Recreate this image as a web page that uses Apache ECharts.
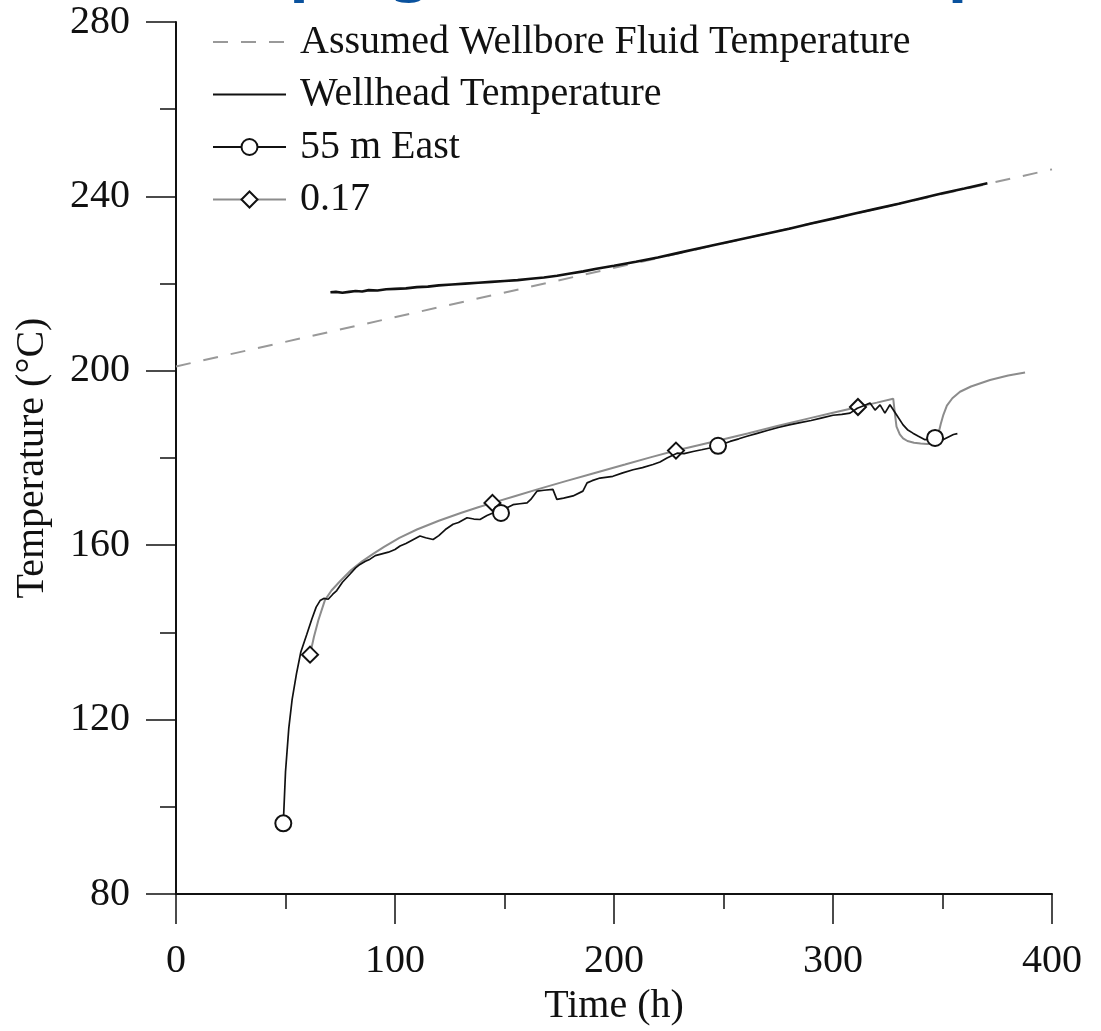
<!DOCTYPE html>
<html>
<head>
<meta charset="utf-8">
<title>Temperature vs time</title>
<script src="https://cdn.jsdelivr.net/npm/echarts@6/dist/echarts.min.js"></script>
<style>
  html, body { margin: 0; padding: 0; background: #fff; }
  #chart { width: 1101px; height: 1031px; }
</style>
</head>
<body>
<div id="chart"></div>
<script>
const serif = '"Liberation Serif", "Times New Roman", serif';

const seriesNames = ['Assumed Wellbore Fluid Temperature', 'Wellhead Temperature', '55 m East', '0.17'];
const xTicks = [0, 100, 200, 300, 400];
const yTicks = [80, 120, 160, 200, 240, 280];

// [time h, temperature C]
const assumedTemp = [[0, 201.0], [400, 246.2]];

const wellheadTemp = [
  [70.5, 218.0], [73, 218.1], [76, 217.9], [79, 218.1], [82, 218.3], [85, 218.2],
  [88, 218.5], [92, 218.4], [96, 218.7], [100, 218.8], [105, 218.9], [110, 219.2],
  [115, 219.3], [120, 219.6], [126, 219.8], [132, 220.0], [138, 220.2], [144, 220.4],
  [150, 220.6], [156, 220.8], [162, 221.1], [168, 221.4], [174, 221.8], [180, 222.3],
  [186, 222.8], [192, 223.4], [200, 224.1], [210, 225.0], [220, 226.0], [230, 227.1],
  [240, 228.2], [250, 229.3], [260, 230.4], [270, 231.5], [280, 232.6], [290, 233.8],
  [300, 234.9], [310, 236.1], [320, 237.2], [330, 238.3], [340, 239.5], [350, 240.7],
  [360, 241.8], [370.5, 243.0]
];

const eastTemp = [
  [49, 96.2], [50, 108], [51.5, 118], [53, 124.5], [55, 130.5], [57, 135.5],
  [59.7, 139.5], [62, 143], [64, 145.8], [65.8, 147.3], [67.5, 147.8], [69.5, 147.6],
  [71.5, 148.7], [73.4, 149.6], [76, 151.5], [79.5, 153.4], [82, 154.8], [84, 155.6],
  [86.5, 156.3], [88.6, 156.8], [91, 157.6], [94, 158.0], [97, 158.4], [100, 159.0],
  [102.3, 159.8], [105, 160.4], [108, 161.2], [111.4, 162.1], [114, 161.7], [117.4, 161.3],
  [120, 162.2], [123, 163.6], [126.5, 164.8], [129, 165.2], [132.9, 166.3], [136, 166.0],
  [138.8, 165.9], [142, 166.8], [146.6, 167.8], [148.4, 167.4], [150, 168.3], [153.9, 169.3],
  [157, 169.5], [160.3, 169.7], [162, 170.5], [164.8, 172.4], [168, 172.6], [172.1, 172.8],
  [173.9, 170.5], [177, 170.8], [181.3, 171.3], [185.8, 172.4], [187.7, 174.3], [190, 174.8],
  [193.6, 175.4], [199.5, 175.8], [204, 176.6], [208.7, 177.3], [213, 177.8], [217.8, 178.5],
  [221, 179.1], [224.2, 180.0], [228.8, 181.1], [232, 181.0], [236.1, 181.5], [240, 181.9],
  [243.8, 182.3], [247.5, 182.8], [253, 183.8], [257, 184.4], [260.7, 185.0], [265, 185.6],
  [270, 186.3], [275, 187.0], [280, 187.6], [285, 188.1], [290, 188.6], [295, 189.2],
  [300, 189.8], [304, 190.0], [307.8, 190.3], [311.1, 191.4], [314, 192.0], [316.9, 192.6],
  [319.2, 191.0], [321.5, 192.2], [323.7, 190.3], [326, 192.2], [329, 189.9], [332, 187.6],
  [334, 186.5], [336.5, 185.7], [339, 185.0], [342, 184.2], [344.5, 184.3], [346.6, 184.6],
  [348.5, 184.0], [350.2, 184.2], [353.4, 185.0], [355, 185.4], [356.8, 185.6]
];
const eastMarks = [49, 148.4, 247.5, 346.6];

const modelTemp = [
  [61.2, 134.9], [63, 139], [65, 142.8], [68, 147.4], [71, 149.6], [75, 151.8],
  [80, 154.3], [85, 156.3], [90, 158.0], [95, 159.6], [102, 161.7], [110, 163.6],
  [120, 165.6], [130, 167.4], [138, 168.7], [144.5, 169.7], [155, 171.3], [165, 172.8],
  [178, 174.7], [190, 176.4], [205, 178.5], [217, 180.2], [228.3, 181.7], [240, 183.1],
  [250, 184.3], [261, 185.6], [275, 187.4], [290, 189.2], [300, 190.4], [311.4, 191.7],
  [320, 192.7], [327.5, 193.6], [328.3, 190], [329, 187.2], [330.5, 185.4], [332, 184.5],
  [334, 183.9], [337, 183.5], [340, 183.3], [343, 183.2], [345, 183.4], [346.5, 184],
  [348, 185.3], [349.2, 187.8], [350.4, 189.9], [352, 192.0], [354.5, 193.7], [358, 195.2],
  [363, 196.4], [371.7, 197.9], [380, 198.9], [387.7, 199.6]
];
const modelMarks = [61.2, 144.5, 228.3, 311.4];

function withMarks(points, marks) {
  return points.map(p => marks.includes(p[0]) ? { value: p } : { value: p, symbol: 'none' });
}

const chart = echarts.init(document.getElementById('chart'));

const axisText = { fontFamily: serif, fontSize: 40, color: '#111' };
const axisLine = { lineStyle: { color: '#111', width: 2 } };

chart.setOption({
  animation: false,
  backgroundColor: '#fff',
  graphic: [{
    type: 'text',
    x: 72,
    y: -31,
    silent: true,
    style: {
      text: 'Developing a Wellhead Temperature',
      font: 'bold 64px "Noto Sans"',
      fill: '#0a529e',
      verticalAlign: 'middle'
    }
  }],
  grid: { left: 176, right: 49, top: 22, bottom: 133 },
  legend: {
    orient: 'vertical',
    left: 207,
    top: 17,
    itemWidth: 73,
    itemHeight: 20,
    itemGap: 12.5,
    selectedMode: false,
    textStyle: { fontFamily: serif, fontSize: 40, color: '#111', lineHeight: 40, padding: [0, 0, 0, 9] },
    data: [
      { name: seriesNames[0], itemStyle: { opacity: 0 } },
      { name: seriesNames[1], itemStyle: { opacity: 0 } },
      seriesNames[2],
      seriesNames[3]
    ]
  },
  xAxis: {
    type: 'value',
    min: xTicks[0],
    max: xTicks[xTicks.length - 1],
    interval: xTicks[1] - xTicks[0],
    name: 'Time (h)',
    nameLocation: 'middle',
    nameGap: 92,
    nameTextStyle: axisText,
    axisLine: axisLine,
    axisTick: { length: 30, lineStyle: { color: '#111', width: 1.5 } },
    minorTick: { show: true, splitNumber: 2, length: 15, lineStyle: { color: '#111', width: 1.5 } },
    axisLabel: Object.assign({ margin: 47 }, axisText),
    splitLine: { show: false }
  },
  yAxis: {
    type: 'value',
    min: yTicks[0],
    max: yTicks[yTicks.length - 1],
    interval: yTicks[1] - yTicks[0],
    name: 'Temperature (°C)',
    nameLocation: 'middle',
    nameGap: 124,
    nameTextStyle: axisText,
    axisLine: axisLine,
    axisTick: { length: 30, lineStyle: { color: '#111', width: 1.5 } },
    minorTick: { show: true, splitNumber: 2, length: 16, lineStyle: { color: '#111', width: 1.5 } },
    axisLabel: Object.assign({ margin: 46 }, axisText),
    splitLine: { show: false }
  },
  series: [
    {
      name: seriesNames[0],
      type: 'line',
      symbol: 'none',
      data: assumedTemp,
      itemStyle: { color: '#999' },
      lineStyle: { color: '#999', width: 2, type: [15, 13] },
      z: 1
    },
    {
      name: seriesNames[1],
      type: 'line',
      symbol: 'none',
      data: wellheadTemp,
      itemStyle: { color: '#111' },
      lineStyle: { color: '#111', width: 2.6 },
      z: 3
    },
    {
      name: seriesNames[2],
      type: 'line',
      symbol: 'emptyCircle',
      symbolSize: 16,
      showSymbol: true,
      data: withMarks(eastTemp, eastMarks),
      itemStyle: { color: '#111', borderWidth: 2 },
      lineStyle: { color: '#111', width: 1.7 },
      z: 4
    },
    {
      name: seriesNames[3],
      type: 'line',
      symbol: 'emptyDiamond',
      symbolSize: 16,
      showSymbol: true,
      data: withMarks(modelTemp, modelMarks),
      itemStyle: { color: '#111', borderWidth: 2 },
      lineStyle: { color: '#8c8c8c', width: 2 },
      z: 2
    }
  ]
});

window.addEventListener('resize', () => chart.resize());
</script>
</body>
</html>
